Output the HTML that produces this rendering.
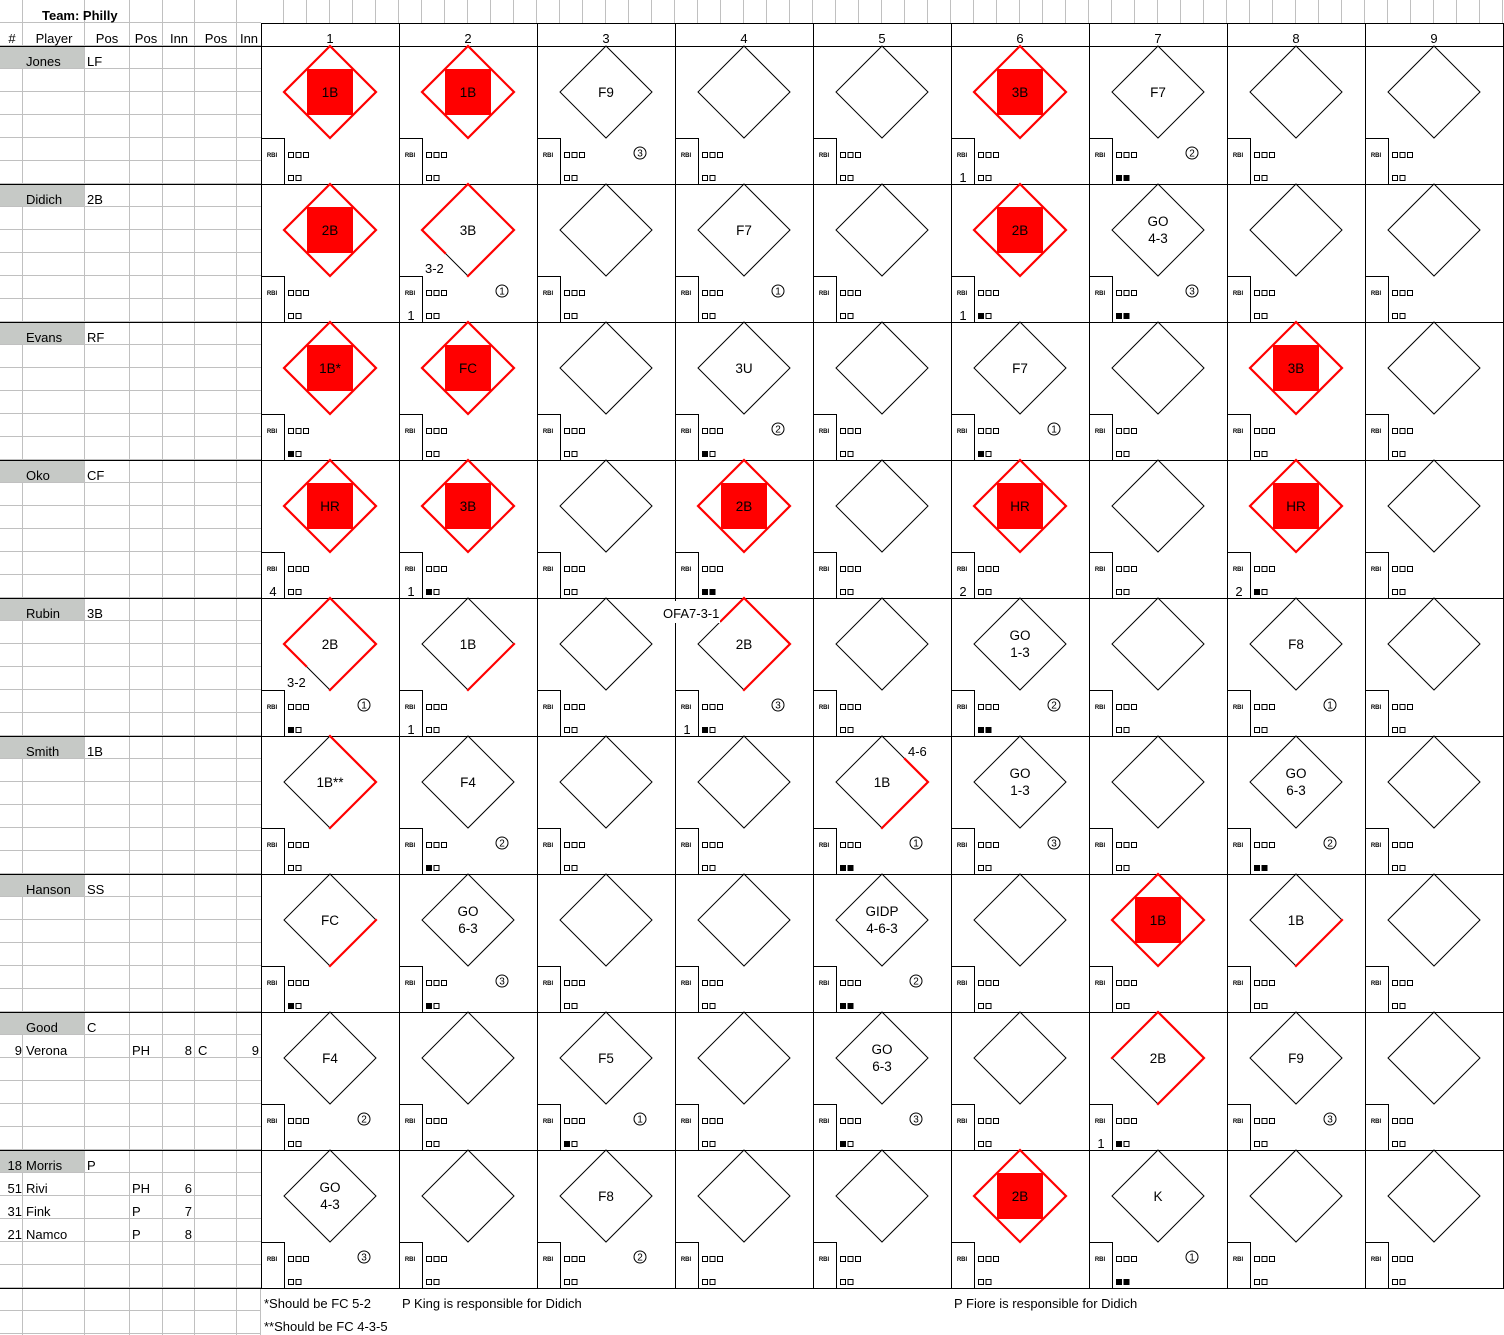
<!DOCTYPE html>
<html><head><meta charset="utf-8"><style>
html,body{margin:0;padding:0;background:#fff;}
svg{display:block}
text{font-family:"Liberation Sans",Arial,sans-serif;fill:#000}
.l{font-size:13px}
.m{font-size:13.5px;text-anchor:middle}
.r{font-size:6px;text-anchor:middle;font-weight:bold}
.d{font-size:10px;text-anchor:middle}
.c{fill:none;stroke:#000;stroke-width:1}
.p{fill:none;stroke:#f00;stroke-width:2.2;stroke-linecap:square}
.n{font-size:13px;text-anchor:middle}
</style></head><body>
<svg width="1504" height="1335" viewBox="0 0 1504 1335" xmlns="http://www.w3.org/2000/svg">
<defs>
<pattern id="hp" patternUnits="userSpaceOnUse" x="0" y="0" width="261" height="23"><rect x="0" y="22" width="261" height="1" fill="#c0c0c0"/></pattern>
<pattern id="vp" patternUnits="userSpaceOnUse" x="261" y="0" width="23" height="23"><rect x="22" y="0" width="1" height="23" fill="#c0c0c0"/></pattern>
<g id="b">
<polygon points="69,0 115,46 69,92 23,46" fill="none" stroke="#000" stroke-width="1"/>
<path d="M0.5,92.5H23.5V138" fill="none" stroke="#000"/>
<g fill="none" stroke="#000" stroke-width="1">
<rect x="27.5" y="106.5" width="5" height="5"/><rect x="35" y="106.5" width="5" height="5"/><rect x="42.5" y="106.5" width="5" height="5"/>
<rect x="27.5" y="129.5" width="5" height="5"/><rect x="35" y="129.5" width="5" height="5"/>
</g>
</g>
<g id="f"><rect x="46" y="23" width="46" height="46" fill="#f00"/><polygon points="69,0 115,46 69,92 23,46" fill="none" stroke="#f00" stroke-width="2.2"/></g>
<rect id="s1" x="27.5" y="129.5" width="5" height="5" fill="#000"/>
<g id="s2"><rect x="27.5" y="129.5" width="5" height="5" fill="#000"/><rect x="35" y="129.5" width="5" height="5" fill="#000"/></g>
<circle id="ci" cx="103" cy="107" r="6" fill="none" stroke="#000"/>
</defs>
<rect width="1504" height="1335" fill="#fff"/>
<!-- left gray grid -->
<rect x="0" y="0" width="261" height="1335" fill="url(#hp)"/>
<rect x="261" y="0" width="1243" height="23" fill="url(#vp)"/>
<g fill="#c0c0c0">
<rect x="22" y="0" width="1" height="1335"/><rect x="84" y="0" width="1" height="1335"/><rect x="129" y="0" width="1" height="1335"/><rect x="162" y="0" width="1" height="1335"/><rect x="194" y="0" width="1" height="1335"/><rect x="236" y="0" width="1" height="1335"/><rect x="260" y="1288" width="1" height="47"/>
</g>
<!-- name shading -->
<g fill="#c6c9c6">
<rect x="0" y="46" width="84" height="22"/><rect x="0" y="184" width="84" height="22"/><rect x="0" y="322" width="84" height="22"/><rect x="0" y="460" width="84" height="22"/><rect x="0" y="598" width="84" height="22"/><rect x="0" y="736" width="84" height="22"/><rect x="0" y="874" width="84" height="22"/><rect x="0" y="1012" width="84" height="22"/><rect x="0" y="1150" width="84" height="22"/>
</g>
<!-- white score area -->
<rect x="261" y="23" width="1243" height="1265" fill="#fff"/>
<!-- black lines -->
<path d="M261,23.5H1504M0,46.5H1504M0,184.5H1504M0,322.5H1504M0,460.5H1504M0,598.5H1504M0,736.5H1504M0,874.5H1504M0,1012.5H1504M0,1150.5H1504M0,1288.5H1504M261.5,23V1288M399.5,23V1288M537.5,23V1288M675.5,23V1288M813.5,23V1288M951.5,23V1288M1089.5,23V1288M1227.5,23V1288M1365.5,23V1288M1503.5,23V1288" stroke="#000" stroke-width="1" fill="none"/>
<!-- headers -->
<text x="42" y="20" class="l" font-weight="bold">Team: Philly</text>
<text x="12" y="43" class="n">#</text><text x="54" y="43" class="n">Player</text><text x="107" y="43" class="n">Pos</text><text x="146" y="43" class="n">Pos</text><text x="179" y="43" class="n">Inn</text><text x="216" y="43" class="n">Pos</text><text x="249" y="43" class="n">Inn</text>
<text x="330" y="43" class="n">1</text><text x="468" y="43" class="n">2</text><text x="606" y="43" class="n">3</text><text x="744" y="43" class="n">4</text><text x="882" y="43" class="n">5</text><text x="1020" y="43" class="n">6</text><text x="1158" y="43" class="n">7</text><text x="1296" y="43" class="n">8</text><text x="1434" y="43" class="n">9</text>
<!-- players -->
<g class="l">
<text x="26" y="66" class="l">Jones</text><text x="87" y="66" class="l">LF</text>
<text x="26" y="204" class="l">Didich</text><text x="87" y="204" class="l">2B</text>
<text x="26" y="342" class="l">Evans</text><text x="87" y="342" class="l">RF</text>
<text x="26" y="480" class="l">Oko</text><text x="87" y="480" class="l">CF</text>
<text x="26" y="618" class="l">Rubin</text><text x="87" y="618" class="l">3B</text>
<text x="26" y="756" class="l">Smith</text><text x="87" y="756" class="l">1B</text>
<text x="26" y="894" class="l">Hanson</text><text x="87" y="894" class="l">SS</text>
<text x="26" y="1032" class="l">Good</text><text x="87" y="1032" class="l">C</text>
<text x="22" y="1055" class="l" text-anchor="end">9</text><text x="26" y="1055" class="l">Verona</text><text x="132" y="1055" class="l">PH</text><text x="192" y="1055" class="l" text-anchor="end">8</text><text x="198" y="1055" class="l">C</text><text x="259" y="1055" class="l" text-anchor="end">9</text>
<text x="22" y="1170" class="l" text-anchor="end">18</text><text x="26" y="1170" class="l">Morris</text><text x="87" y="1170" class="l">P</text>
<text x="22" y="1193" class="l" text-anchor="end">51</text><text x="26" y="1193" class="l">Rivi</text><text x="132" y="1193" class="l">PH</text><text x="192" y="1193" class="l" text-anchor="end">6</text>
<text x="22" y="1216" class="l" text-anchor="end">31</text><text x="26" y="1216" class="l">Fink</text><text x="132" y="1216" class="l">P</text><text x="192" y="1216" class="l" text-anchor="end">7</text>
<text x="22" y="1239" class="l" text-anchor="end">21</text><text x="26" y="1239" class="l">Namco</text><text x="132" y="1239" class="l">P</text><text x="192" y="1239" class="l" text-anchor="end">8</text>
</g>
<!-- footer -->
<text x="264" y="1308" class="l">*Should be FC 5-2</text>
<text x="402" y="1308" class="l">P King is responsible for Didich</text>
<text x="954" y="1308" class="l">P Fiore is responsible for Didich</text>
<text x="264" y="1331" class="l">**Should be FC 4-3-5</text>

<!-- ROW 1 y46 -->
<g transform="translate(261,46)"><use href="#b"/><use href="#f"/><text class="m" x="69" y="51">1B</text><text class="r" x="11" y="111">RBI</text></g>
<g transform="translate(399,46)"><use href="#b"/><use href="#f"/><text class="m" x="69" y="51">1B</text><text class="r" x="11" y="111">RBI</text></g>
<g transform="translate(537,46)"><use href="#b"/><text class="m" x="69" y="51">F9</text><text class="r" x="11" y="111">RBI</text><use href="#ci"/><text class="d" x="103" y="110.5">3</text></g>
<g transform="translate(675,46)"><use href="#b"/><text class="r" x="11" y="111">RBI</text></g>
<g transform="translate(813,46)"><use href="#b"/><text class="r" x="11" y="111">RBI</text></g>
<g transform="translate(951,46)"><use href="#b"/><use href="#f"/><text class="m" x="69" y="51">3B</text><text class="r" x="11" y="111">RBI</text><text class="n" x="12" y="136">1</text></g>
<g transform="translate(1089,46)"><use href="#b"/><text class="m" x="69" y="51">F7</text><text class="r" x="11" y="111">RBI</text><use href="#ci"/><text class="d" x="103" y="110.5">2</text><use href="#s2"/></g>
<g transform="translate(1227,46)"><use href="#b"/><text class="r" x="11" y="111">RBI</text></g>
<g transform="translate(1365,46)"><use href="#b"/><text class="r" x="11" y="111">RBI</text></g>

<!-- ROW 2 y184 -->
<g transform="translate(261,184)"><use href="#b"/><use href="#f"/><text class="m" x="69" y="51">2B</text><text class="r" x="11" y="111">RBI</text></g>
<g transform="translate(399,184)"><use href="#b"/><path class="p" d="M69,92L115,46L69,0L23,46L46,69"/><text class="m" x="69" y="51">3B</text><text class="l" x="26" y="89">3-2</text><text class="r" x="11" y="111">RBI</text><text class="n" x="12" y="136">1</text><use href="#ci"/><text class="d" x="103" y="110.5">1</text></g>
<g transform="translate(537,184)"><use href="#b"/><text class="r" x="11" y="111">RBI</text></g>
<g transform="translate(675,184)"><use href="#b"/><text class="m" x="69" y="51">F7</text><text class="r" x="11" y="111">RBI</text><use href="#ci"/><text class="d" x="103" y="110.5">1</text></g>
<g transform="translate(813,184)"><use href="#b"/><text class="r" x="11" y="111">RBI</text></g>
<g transform="translate(951,184)"><use href="#b"/><use href="#f"/><text class="m" x="69" y="51">2B</text><text class="r" x="11" y="111">RBI</text><text class="n" x="12" y="136">1</text><use href="#s1"/></g>
<g transform="translate(1089,184)"><use href="#b"/><text class="m" x="69" y="42">GO</text><text class="m" x="69" y="59">4-3</text><text class="r" x="11" y="111">RBI</text><use href="#ci"/><text class="d" x="103" y="110.5">3</text><use href="#s2"/></g>
<g transform="translate(1227,184)"><use href="#b"/><text class="r" x="11" y="111">RBI</text></g>
<g transform="translate(1365,184)"><use href="#b"/><text class="r" x="11" y="111">RBI</text></g>

<!-- ROW 3 y322 -->
<g transform="translate(261,322)"><use href="#b"/><use href="#f"/><text class="m" x="69" y="51">1B*</text><text class="r" x="11" y="111">RBI</text><use href="#s1"/></g>
<g transform="translate(399,322)"><use href="#b"/><use href="#f"/><text class="m" x="69" y="51">FC</text><text class="r" x="11" y="111">RBI</text></g>
<g transform="translate(537,322)"><use href="#b"/><text class="r" x="11" y="111">RBI</text></g>
<g transform="translate(675,322)"><use href="#b"/><text class="m" x="69" y="51">3U</text><text class="r" x="11" y="111">RBI</text><use href="#ci"/><text class="d" x="103" y="110.5">2</text><use href="#s1"/></g>
<g transform="translate(813,322)"><use href="#b"/><text class="r" x="11" y="111">RBI</text></g>
<g transform="translate(951,322)"><use href="#b"/><text class="m" x="69" y="51">F7</text><text class="r" x="11" y="111">RBI</text><use href="#ci"/><text class="d" x="103" y="110.5">1</text><use href="#s1"/></g>
<g transform="translate(1089,322)"><use href="#b"/><text class="r" x="11" y="111">RBI</text></g>
<g transform="translate(1227,322)"><use href="#b"/><use href="#f"/><text class="m" x="69" y="51">3B</text><text class="r" x="11" y="111">RBI</text></g>
<g transform="translate(1365,322)"><use href="#b"/><text class="r" x="11" y="111">RBI</text></g>

<!-- ROW 4 y460 -->
<g transform="translate(261,460)"><use href="#b"/><use href="#f"/><text class="m" x="69" y="51">HR</text><text class="r" x="11" y="111">RBI</text><text class="n" x="12" y="136">4</text></g>
<g transform="translate(399,460)"><use href="#b"/><use href="#f"/><text class="m" x="69" y="51">3B</text><text class="r" x="11" y="111">RBI</text><text class="n" x="12" y="136">1</text><use href="#s1"/></g>
<g transform="translate(537,460)"><use href="#b"/><text class="r" x="11" y="111">RBI</text></g>
<g transform="translate(675,460)"><use href="#b"/><use href="#f"/><text class="m" x="69" y="51">2B</text><text class="r" x="11" y="111">RBI</text><use href="#s2"/></g>
<g transform="translate(813,460)"><use href="#b"/><text class="r" x="11" y="111">RBI</text></g>
<g transform="translate(951,460)"><use href="#b"/><use href="#f"/><text class="m" x="69" y="51">HR</text><text class="r" x="11" y="111">RBI</text><text class="n" x="12" y="136">2</text></g>
<g transform="translate(1089,460)"><use href="#b"/><text class="r" x="11" y="111">RBI</text></g>
<g transform="translate(1227,460)"><use href="#b"/><use href="#f"/><text class="m" x="69" y="51">HR</text><text class="r" x="11" y="111">RBI</text><text class="n" x="12" y="136">2</text><use href="#s1"/></g>
<g transform="translate(1365,460)"><use href="#b"/><text class="r" x="11" y="111">RBI</text></g>

<!-- ROW 5 y598 -->
<g transform="translate(261,598)"><use href="#b"/><path class="p" d="M69,92L115,46L69,0L23,46L45,68"/><text class="m" x="69" y="51">2B</text><text class="l" x="26" y="89">3-2</text><text class="r" x="11" y="111">RBI</text><use href="#ci"/><text class="d" x="103" y="110.5">1</text><use href="#s1"/></g>
<g transform="translate(399,598)"><use href="#b"/><path class="p" d="M69,92L115,46"/><text class="m" x="69" y="51">1B</text><text class="r" x="11" y="111">RBI</text><text class="n" x="12" y="136">1</text></g>
<g transform="translate(537,598)"><use href="#b"/><text class="r" x="11" y="111">RBI</text></g>
<g transform="translate(675,598)"><use href="#b"/><path class="p" d="M69,92L115,46L69,0L46,23"/><rect x="-13" y="3" width="58" height="22" fill="#fff"/><text class="l" x="-12" y="20">OFA7-3-1</text><text class="m" x="69" y="51">2B</text><text class="r" x="11" y="111">RBI</text><text class="n" x="12" y="136">1</text><use href="#ci"/><text class="d" x="103" y="110.5">3</text><use href="#s1"/></g>
<g transform="translate(813,598)"><use href="#b"/><text class="r" x="11" y="111">RBI</text></g>
<g transform="translate(951,598)"><use href="#b"/><text class="m" x="69" y="42">GO</text><text class="m" x="69" y="59">1-3</text><text class="r" x="11" y="111">RBI</text><use href="#ci"/><text class="d" x="103" y="110.5">2</text><use href="#s2"/></g>
<g transform="translate(1089,598)"><use href="#b"/><text class="r" x="11" y="111">RBI</text></g>
<g transform="translate(1227,598)"><use href="#b"/><text class="m" x="69" y="51">F8</text><text class="r" x="11" y="111">RBI</text><use href="#ci"/><text class="d" x="103" y="110.5">1</text></g>
<g transform="translate(1365,598)"><use href="#b"/><text class="r" x="11" y="111">RBI</text></g>

<!-- ROW 6 y736 -->
<g transform="translate(261,736)"><use href="#b"/><path class="p" d="M69,92L115,46L69,0"/><text class="m" x="69" y="51">1B**</text><text class="r" x="11" y="111">RBI</text></g>
<g transform="translate(399,736)"><use href="#b"/><text class="m" x="69" y="51">F4</text><text class="r" x="11" y="111">RBI</text><use href="#ci"/><text class="d" x="103" y="110.5">2</text><use href="#s1"/></g>
<g transform="translate(537,736)"><use href="#b"/><text class="r" x="11" y="111">RBI</text></g>
<g transform="translate(675,736)"><use href="#b"/><text class="r" x="11" y="111">RBI</text></g>
<g transform="translate(813,736)"><use href="#b"/><path class="p" d="M69,92L115,46L92,23"/><text class="l" x="95" y="20">4-6</text><text class="m" x="69" y="51">1B</text><text class="r" x="11" y="111">RBI</text><use href="#ci"/><text class="d" x="103" y="110.5">1</text><use href="#s2"/></g>
<g transform="translate(951,736)"><use href="#b"/><text class="m" x="69" y="42">GO</text><text class="m" x="69" y="59">1-3</text><text class="r" x="11" y="111">RBI</text><use href="#ci"/><text class="d" x="103" y="110.5">3</text></g>
<g transform="translate(1089,736)"><use href="#b"/><text class="r" x="11" y="111">RBI</text></g>
<g transform="translate(1227,736)"><use href="#b"/><text class="m" x="69" y="42">GO</text><text class="m" x="69" y="59">6-3</text><text class="r" x="11" y="111">RBI</text><use href="#ci"/><text class="d" x="103" y="110.5">2</text><use href="#s2"/></g>
<g transform="translate(1365,736)"><use href="#b"/><text class="r" x="11" y="111">RBI</text></g>

<!-- ROW 7 y874 -->
<g transform="translate(261,874)"><use href="#b"/><path class="p" d="M69,92L115,46"/><text class="m" x="69" y="51">FC</text><text class="r" x="11" y="111">RBI</text><use href="#s1"/></g>
<g transform="translate(399,874)"><use href="#b"/><text class="m" x="69" y="42">GO</text><text class="m" x="69" y="59">6-3</text><text class="r" x="11" y="111">RBI</text><use href="#ci"/><text class="d" x="103" y="110.5">3</text><use href="#s1"/></g>
<g transform="translate(537,874)"><use href="#b"/><text class="r" x="11" y="111">RBI</text></g>
<g transform="translate(675,874)"><use href="#b"/><text class="r" x="11" y="111">RBI</text></g>
<g transform="translate(813,874)"><use href="#b"/><text class="m" x="69" y="42">GIDP</text><text class="m" x="69" y="59">4-6-3</text><text class="r" x="11" y="111">RBI</text><use href="#ci"/><text class="d" x="103" y="110.5">2</text><use href="#s2"/></g>
<g transform="translate(951,874)"><use href="#b"/><text class="r" x="11" y="111">RBI</text></g>
<g transform="translate(1089,874)"><use href="#b"/><use href="#f"/><text class="m" x="69" y="51">1B</text><text class="r" x="11" y="111">RBI</text></g>
<g transform="translate(1227,874)"><use href="#b"/><path class="p" d="M69,92L115,46"/><text class="m" x="69" y="51">1B</text><text class="r" x="11" y="111">RBI</text></g>
<g transform="translate(1365,874)"><use href="#b"/><text class="r" x="11" y="111">RBI</text></g>

<!-- ROW 8 y1012 -->
<g transform="translate(261,1012)"><use href="#b"/><text class="m" x="69" y="51">F4</text><text class="r" x="11" y="111">RBI</text><use href="#ci"/><text class="d" x="103" y="110.5">2</text></g>
<g transform="translate(399,1012)"><use href="#b"/><text class="r" x="11" y="111">RBI</text></g>
<g transform="translate(537,1012)"><use href="#b"/><text class="m" x="69" y="51">F5</text><text class="r" x="11" y="111">RBI</text><use href="#ci"/><text class="d" x="103" y="110.5">1</text><use href="#s1"/></g>
<g transform="translate(675,1012)"><use href="#b"/><text class="r" x="11" y="111">RBI</text></g>
<g transform="translate(813,1012)"><use href="#b"/><text class="m" x="69" y="42">GO</text><text class="m" x="69" y="59">6-3</text><text class="r" x="11" y="111">RBI</text><use href="#ci"/><text class="d" x="103" y="110.5">3</text><use href="#s1"/></g>
<g transform="translate(951,1012)"><use href="#b"/><text class="r" x="11" y="111">RBI</text></g>
<g transform="translate(1089,1012)"><use href="#b"/><path class="p" d="M69,92L115,46L69,0L23,46"/><text class="m" x="69" y="51">2B</text><text class="r" x="11" y="111">RBI</text><text class="n" x="12" y="136">1</text><use href="#s1"/></g>
<g transform="translate(1227,1012)"><use href="#b"/><text class="m" x="69" y="51">F9</text><text class="r" x="11" y="111">RBI</text><use href="#ci"/><text class="d" x="103" y="110.5">3</text></g>
<g transform="translate(1365,1012)"><use href="#b"/><text class="r" x="11" y="111">RBI</text></g>

<!-- ROW 9 y1150 -->
<g transform="translate(261,1150)"><use href="#b"/><text class="m" x="69" y="42">GO</text><text class="m" x="69" y="59">4-3</text><text class="r" x="11" y="111">RBI</text><use href="#ci"/><text class="d" x="103" y="110.5">3</text></g>
<g transform="translate(399,1150)"><use href="#b"/><text class="r" x="11" y="111">RBI</text></g>
<g transform="translate(537,1150)"><use href="#b"/><text class="m" x="69" y="51">F8</text><text class="r" x="11" y="111">RBI</text><use href="#ci"/><text class="d" x="103" y="110.5">2</text></g>
<g transform="translate(675,1150)"><use href="#b"/><text class="r" x="11" y="111">RBI</text></g>
<g transform="translate(813,1150)"><use href="#b"/><text class="r" x="11" y="111">RBI</text></g>
<g transform="translate(951,1150)"><use href="#b"/><use href="#f"/><text class="m" x="69" y="51">2B</text><text class="r" x="11" y="111">RBI</text></g>
<g transform="translate(1089,1150)"><use href="#b"/><text class="m" x="69" y="51">K</text><text class="r" x="11" y="111">RBI</text><use href="#ci"/><text class="d" x="103" y="110.5">1</text><use href="#s2"/></g>
<g transform="translate(1227,1150)"><use href="#b"/><text class="r" x="11" y="111">RBI</text></g>
<g transform="translate(1365,1150)"><use href="#b"/><text class="r" x="11" y="111">RBI</text></g>
</svg>
</body></html>
